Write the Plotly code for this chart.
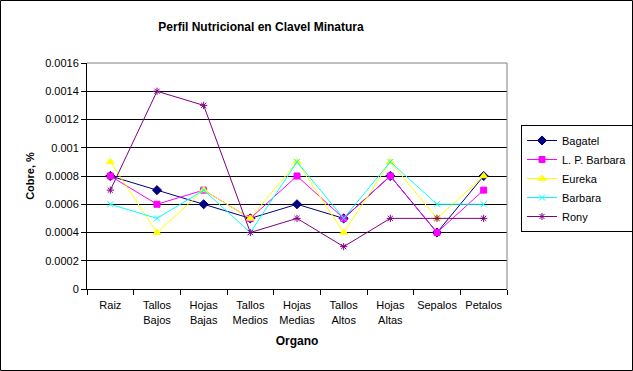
import plotly.graph_objects as go

categories = ["Raiz", "Tallos<br>Bajos", "Hojas<br>Bajas", "Tallos<br>Medios", "Hojas<br>Medias",
              "Tallos<br>Altos", "Hojas<br>Altas", "Sepalos", "Petalos"]
bagatel = [0.0008, 0.0007, 0.0006, 0.0005, 0.0006, 0.0005, 0.0008, 0.0004, 0.0008]
lp_barbara = [0.0008, 0.0006, 0.0007, 0.0005, 0.0008, 0.0005, 0.0008, 0.0004, 0.0007]
eureka = [0.0009, 0.0004, 0.0007, 0.0005, 0.0009, 0.0004, 0.0009, 0.0005, 0.0008]
barbara = [0.0006, 0.0005, 0.0007, 0.0004, 0.0009, 0.0005, 0.0009, 0.0006, 0.0006]
rony = [0.0007, 0.0014, 0.0013, 0.0004, 0.0005, 0.0003, 0.0005, 0.0005, 0.0005]

W, H = 633, 371
L, R, T, B = 87, 126, 63, 82
pw, ph = W - L - R, H - T - B

series = [
    ("Bagatel", bagatel, "#000080", "diamond", 7),
    ("L. P. Barbara", lp_barbara, "#FF00FF", "square", 6),
    ("Eureka", eureka, "#FFFF00", "triangle-up", 7),
    ("Barbara", barbara, "#00FFFF", "x-thin-open", 6),
    ("Rony", rony, "#800080", "asterisk-open", 6),
]

fig = go.Figure()
for name, vals, col, sym, sz in series:
    fig.add_trace(go.Scatter(
        x=categories, y=vals, name=name, mode="lines+markers",
        line=dict(color=col, width=1),
        marker=dict(symbol=sym, size=sz, color=col, line=dict(color=col, width=1)),
    ))

font = "Arial, Liberation Sans, sans-serif"
fig.update_layout(
    width=W, height=H,
    margin=dict(l=L, r=R, t=T, b=B, autoexpand=False),
    paper_bgcolor="white", plot_bgcolor="white",
    font=dict(family=font, size=11, color="black"),
    title=dict(text="<b>Perfil Nutricional en Clavel Minatura</b>", x=261 / W, xref="container",
               xanchor="center", y=1 - 27 / H, yref="container", yanchor="middle",
               font=dict(size=12, family=font, color="black")),
    showlegend=True,
    legend=dict(x=(521 - L) / pw, y=(T + ph - 125) / ph, xanchor="left", yanchor="top",
                bordercolor="black", borderwidth=1, bgcolor="white",
                font=dict(size=11, family=font), tracegroupgap=0, itemwidth=30),
    xaxis=dict(type="category", showgrid=False, showline=True, linecolor="black", linewidth=1,
               ticks="outside", tickson="boundaries", ticklen=5, tickcolor="black",
               tickangle=0, automargin=False, ticklabelstandoff=6,
               title=dict(text="<b>Organo</b>", font=dict(size=12), standoff=12),
               tickfont=dict(size=11), range=[-0.5, 8.5]),
    yaxis=dict(range=[0, 0.0016], dtick=0.0002, tickformat="~g", showgrid=True, gridcolor="black",
               gridwidth=1, showline=True, linecolor="black", linewidth=1, ticks="outside",
               ticklen=5, tickcolor="black", zeroline=False, automargin=False,
               title=dict(text="<b>Cobre, %</b>", font=dict(size=11), standoff=8),
               tickfont=dict(size=11)),
    shapes=[
        dict(type="line", xref="paper", yref="paper", x0=0, x1=1, y0=1, y1=1,
             line=dict(color="#808080", width=1)),
        dict(type="line", xref="paper", yref="paper", x0=1, x1=1, y0=0, y1=1,
             line=dict(color="#808080", width=1)),
        dict(type="rect", xref="paper", yref="paper",
             x0=(0.5 - L) / pw, x1=(W - 0.5 - L) / pw,
             y0=-(H - 0.5 - T - ph) / ph, y1=1 + (T - 0.5) / ph,
             line=dict(color="black", width=1)),
    ],
)

fig.write_html("out.html", config={"displayModeBar": False},
               post_script="document.body.style.margin='0';document.body.style.overflow='hidden';")
